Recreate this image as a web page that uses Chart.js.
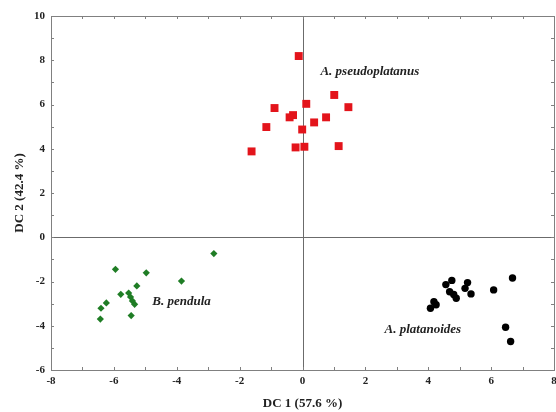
<!DOCTYPE html>
<html>
<head>
<meta charset="utf-8">
<script src="https://cdn.jsdelivr.net/npm/chart.js@4/dist/chart.umd.min.js"></script>
<style>
html,body{margin:0;padding:0;background:#fff;}
#wrap{width:556px;height:412px;}
</style>
</head>
<body>
<div id="wrap"><canvas id="c" width="556" height="412"></canvas></div>
<script>
// Data
const pseudoX = [-0.12, 1.01, 1.46, 0.12, -0.89, -0.30, -0.41, 0.75, 0.37, -1.15, -0.01, -0.22, 0.06, 1.15, -1.62];
const pseudoY = [8.19, 6.43, 5.88, 6.03, 5.84, 5.52, 5.42, 5.42, 5.19, 4.98, 4.87, 4.06, 4.09, 4.12, 3.88];
const pendulaX = [-2.82, -5.95, -4.97, -3.85, -5.27, -5.78, -5.53, -5.47, -5.41, -5.34, -6.24, -6.41, -5.45, -6.43];
const pendulaY = [-0.74, -1.45, -1.61, -1.98, -2.20, -2.58, -2.52, -2.70, -2.88, -3.03, -2.97, -3.21, -3.54, -3.70];
const platX = [6.68, 4.75, 4.56, 5.25, 5.17, 6.08, 4.68, 5.36, 4.81, 4.89, 4.18, 4.25, 4.07, 6.46, 6.62];
const platY = [-1.84, -1.95, -2.14, -2.05, -2.31, -2.38, -2.46, -2.56, -2.59, -2.76, -2.91, -3.05, -3.21, -4.07, -4.71];
const seriesNames = ["A. pseudoplatanus", "B. pendula", "A. platanoides"];
const xTitle = "DC 1 (57.6 %)";
const yTitle = "DC 2 (42.4 %)";
const xTicks = [-8, -6, -4, -2, 0, 2, 4, 6, 8];
const yTicks = [-6, -4, -2, 0, 2, 4, 6, 8, 10];

const pts = (xs, ys) => xs.map((x, i) => ({x: x, y: ys[i]}));
const SERIF = "'Liberation Serif','Times New Roman',serif";

const labelPlugin = {
  id: 'extras',
  beforeDatasetsDraw(chart) {
    const {ctx, chartArea: a, scales: {x, y}} = chart;
    ctx.save();
    // zero lines
    ctx.strokeStyle = '#6b6b6b';
    ctx.lineWidth = 1;
    const x0 = Math.round(x.getPixelForValue(0)) + 0.5;
    const y0 = Math.round(y.getPixelForValue(0)) + 0.5;
    ctx.beginPath();
    ctx.moveTo(x0, a.top); ctx.lineTo(x0, a.bottom);
    ctx.moveTo(a.left, y0); ctx.lineTo(a.right, y0);
    ctx.stroke();
    // frame
    ctx.strokeStyle = '#808080';
    ctx.strokeRect(Math.round(a.left) + 0.5, Math.round(a.top) + 0.5, Math.round(a.right - a.left), Math.round(a.bottom - a.top));
    // inward ticks (every unit)
    ctx.beginPath();
    for (let v = -8; v <= 8; v++) {
      const px = Math.round(x.getPixelForValue(v)) + 0.5;
      const L = 3;
      ctx.moveTo(px, a.bottom); ctx.lineTo(px, a.bottom - L);
      ctx.moveTo(px, a.top); ctx.lineTo(px, a.top + L);
    }
    for (let v = -6; v <= 10; v++) {
      const py = Math.round(y.getPixelForValue(v)) + 0.5;
      const L = 3;
      ctx.moveTo(a.left, py); ctx.lineTo(a.left + L, py);
      ctx.moveTo(a.right, py); ctx.lineTo(a.right - L, py);
    }
    ctx.stroke();
    ctx.restore();
  },
  afterDatasetsDraw(chart) {
    const {ctx, scales: {x, y}} = chart;
    const labels = [
      {t: seriesNames[0], vx: 0.57, vy: 7.47},
      {t: seriesNames[1], vx: -4.78, vy: -2.90},
      {t: seriesNames[2], vx: 2.61, vy: -4.16}
    ];
    ctx.save();
    ctx.font = "italic bold 13px " + SERIF;
    ctx.fillStyle = '#222';
    ctx.textBaseline = 'middle';
    ctx.textAlign = 'left';
    labels.forEach(l => ctx.fillText(l.t, x.getPixelForValue(l.vx), y.getPixelForValue(l.vy)));
    ctx.restore();
  }
};

new Chart(document.getElementById('c'), {
  type: 'scatter',
  data: {
    datasets: [
      {label: seriesNames[0], data: pts(pseudoX, pseudoY), pointStyle: 'rect', pointRadius: 5.6,
       backgroundColor: '#e3141b', borderColor: '#e3141b', borderWidth: 0},
      {label: seriesNames[1], data: pts(pendulaX, pendulaY), pointStyle: 'rectRot', pointRadius: 3.6,
       backgroundColor: '#1f7d25', borderColor: '#1f7d25', borderWidth: 0},
      {label: seriesNames[2], data: pts(platX, platY), pointStyle: 'circle', pointRadius: 3.7,
       backgroundColor: '#000', borderColor: '#000', borderWidth: 0}
    ]
  },
  options: {
    responsive: false,
    animation: false,
    devicePixelRatio: 1,
    layout: {autoPadding: false, padding: {top: 16, right: 2, left: 0, bottom: 0}},
    plugins: {legend: {display: false}, tooltip: {enabled: false}},
    scales: {
      x: {
        type: 'linear', min: -8, max: 8,
        afterBuildTicks: s => { s.ticks = xTicks.map(v => ({value: v})); },
        afterFit: s => { s.height = 42; s.paddingRight = 0; s.paddingLeft = 0; },
        grid: {display: false, drawTicks: false},
        border: {display: false},
        ticks: {padding: 5, color: '#222', font: {family: SERIF, size: 11, weight: 'bold'}, maxRotation: 0},
        title: {display: true, text: xTitle, color: '#222', font: {family: SERIF, size: 13, weight: 'bold'}, padding: {top: 0, bottom: 1}}
      },
      y: {
        type: 'linear', min: -6, max: 10,
        afterBuildTicks: s => { s.ticks = yTicks.map(v => ({value: v})); },
        afterFit: s => { s.width = 51; s.paddingTop = 0; s.paddingBottom = 0; },
        grid: {display: false, drawTicks: false},
        border: {display: false},
        ticks: {padding: 6, color: '#222', font: {family: SERIF, size: 11, weight: 'bold'}},
        title: {display: true, text: yTitle, color: '#222', font: {family: SERIF, size: 13, weight: 'bold'}, padding: {top: 12, bottom: 0}}
      }
    }
  },
  plugins: [labelPlugin]
});
</script>
</body>
</html>
